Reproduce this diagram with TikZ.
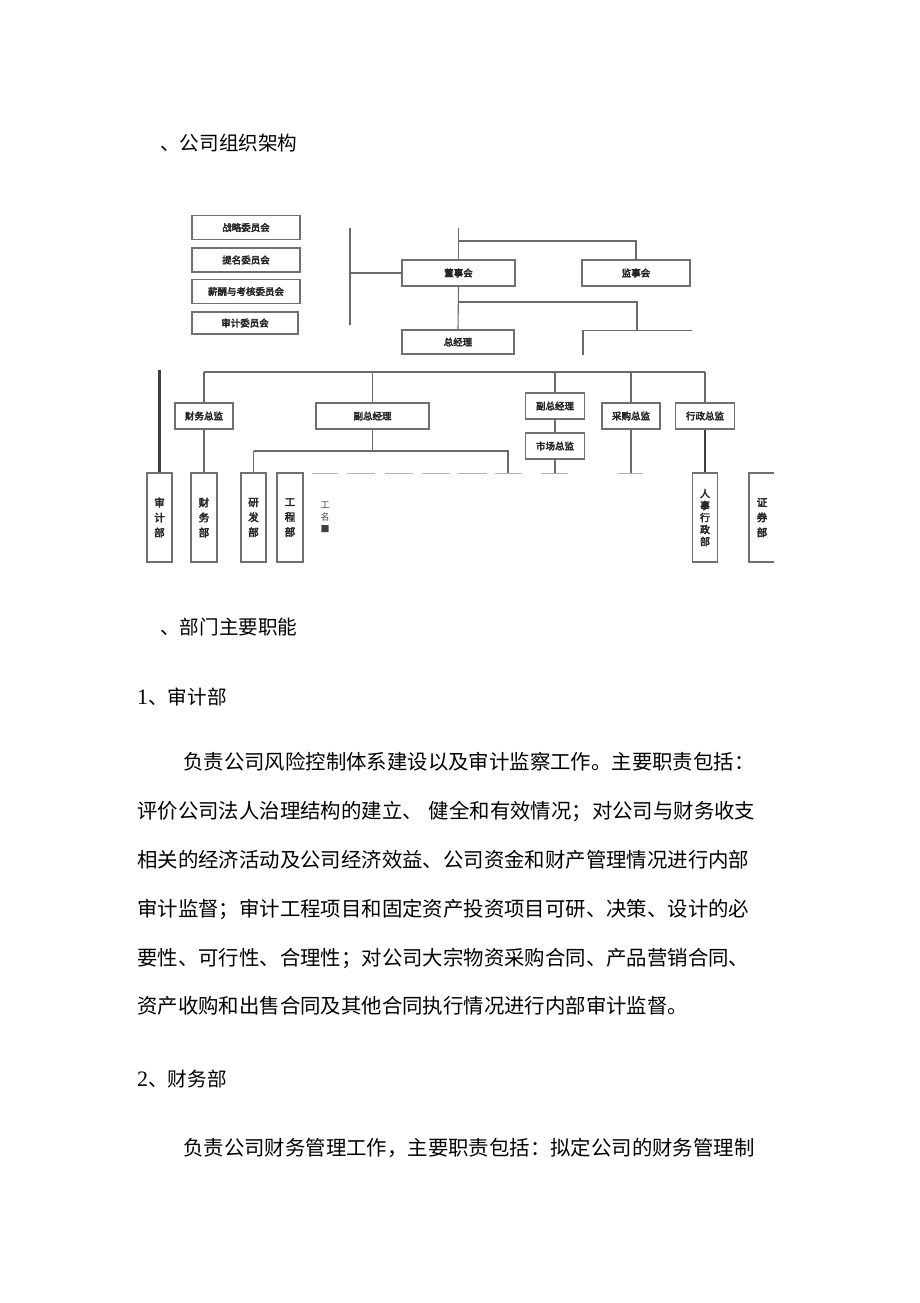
\documentclass[tikz,border=0pt]{standalone}
\usepackage{fontspec}
\newfontfamily\cjk{Noto Sans CJK SC}
\newfontfamily\cjkb[FakeBold=3.5]{Noto Sans CJK SC}
\newfontfamily\lser{Liberation Serif}
\definecolor{linegray}{HTML}{6A6A6A}
\definecolor{boxgray}{HTML}{707070}
\tikzset{
  chartbox/.style={draw=boxgray, line width=1.3pt, fill=white, inner sep=0pt,
    font=\cjkb\fontsize{9.5}{11}\selectfont, text=black!85},
  vbox/.style={chartbox, minimum width=25pt, minimum height=89pt, align=center,
    font=\cjkb\fontsize{10.5}{15}\selectfont},
  conn/.style={draw=linegray, line width=1.1pt},
  thickconn/.style={draw=black!75, line width=2.2pt},
  dashseg/.style={draw=gray!60, line width=0.9pt},
  bodytext/.style={anchor=west, inner sep=0pt, font=\cjk\fontsize{20.4}{20.4}\selectfont},
  headtext/.style={anchor=west, inner sep=0pt, font=\cjk\fontsize{19.6}{19.6}\selectfont},
}
\begin{document}
\begin{tikzpicture}[x=1pt,y=-1pt]
\useasboundingbox[fill=white] (0,0) rectangle (920,1303);

% ---------- title ----------
\node[headtext] (t1) at (160,143) {、公司组织架构};

% ---------- committees ----------
\node[chartbox, minimum width=108pt, minimum height=24pt] (c1) at (246,227.5) {战略委员会};
\node[chartbox, minimum width=108pt, minimum height=24pt] (c2) at (246,260) {提名委员会};
\node[chartbox, minimum width=108pt, minimum height=24pt] (c3) at (246,291.5) {薪酬与考核委员会};
\node[chartbox, minimum width=106pt, minimum height=22pt] (c4) at (245,323) {审计委员会};

% ---------- top ----------
\node[chartbox, minimum width=113pt, minimum height=26pt] (dsh) at (458.5,273) {董事会};
\node[chartbox, minimum width=108pt, minimum height=26pt] (jsh) at (636,273) {监事会};
\node[chartbox, minimum width=112pt, minimum height=24pt] (zjl) at (458,342) {总经理};

\coordinate (lv1) at (350,228);
\coordinate (lv2) at (350,325);
\draw[conn] (lv1) -- (lv2);
\draw[conn] (dsh.west) -- (dsh.west -| lv1);
\coordinate (tt) at (458.5,228);
\coordinate (tb) at (458.5,241);
\coordinate (tj) at (636,241);
\draw[conn] (tt) -- (dsh.north);
\draw[conn] (tb) -- (tj) -- (jsh.north);
\draw[conn] (dsh.south) -- (zjl.north);
\coordinate (mb) at (458.5,302);
\coordinate (mj) at (637,302);
\coordinate (ob1) at (583,355);
\coordinate (ob2) at (583,330.5);
\coordinate (ob3) at (692,330.5);
\coordinate (obt) at (637,330.5);
\draw[conn] (mb) -- (mj) -- (obt);
\draw[conn] (ob1) -- (ob2) -- (ob3);

% ---------- second level ----------
\node[chartbox, minimum width=58pt, minimum height=26pt] (cwzj) at (204,416) {财务总监};
\node[chartbox, minimum width=113pt, minimum height=26pt] (fz1) at (372.5,416) {副总经理};
\node[chartbox, minimum width=59pt, minimum height=26pt] (fz2) at (555,406) {副总经理};
\node[chartbox, minimum width=59pt, minimum height=26pt] (sczj) at (555,446) {市场总监};
\node[chartbox, minimum width=58pt, minimum height=26pt] (cgzj) at (631,416) {采购总监};
\node[chartbox, minimum width=59pt, minimum height=26pt] (xzzj) at (705,416) {行政总监};

\coordinate (busL) at (204,372);
\coordinate (busR) at (705,372);
\draw[conn] (busL) -- (busR);
\draw[conn] (cwzj.north) -- (cwzj.north |- busL);
\draw[conn] (fz1.north) -- (fz1.north |- busL);
\draw[conn] (fz2.north) -- (fz2.north |- busL);
\draw[conn] (cgzj.north) -- (cgzj.north |- busL);
\draw[conn] (xzzj.north) -- (xzzj.north |- busL);
\draw[conn] (fz2.south) -- (sczj.north);

% ---------- departments ----------
\node[vbox] (sjb) at (159.5,517.5) {审\\计\\部};
\node[vbox, minimum width=26pt] (cwb) at (204,517.5) {财\\务\\部};
\node[vbox] (yfb) at (253.5,517.5) {研\\发\\部};
\node[vbox, minimum width=26pt] (gcb) at (290,517.5) {工\\程\\部};
\node[vbox, font=\cjkb\fontsize{10}{12}\selectfont] (rsb) at (705,517.5) {人\\事\\行\\政\\部};
% 证券部 box (open on the right)
\coordinate (zq1) at (774,473);
\coordinate (zq2) at (749,473);
\coordinate (zq3) at (749,562);
\coordinate (zq4) at (774,562);
\draw[draw=boxgray, line width=1.3pt] (zq1) -- (zq2) -- (zq3) -- (zq4);
\node[inner sep=0pt, align=center, font=\cjkb\fontsize{10.5}{15}\selectfont, text=black!85] (zqb) at (762,517.5) {证\\券\\部};

\node[inner sep=0pt, align=center, font=\cjk\fontsize{9}{12}\selectfont, text=black!75] (gm) at (325,517) {工\\名\\■};

\coordinate (sjtop) at (159.5,370);
\draw[thickconn] (sjtop) -- (sjb.north);
\draw[conn] (cwzj.south) -- (cwb.north);
\coordinate (fb1) at (372.5,451);
\coordinate (fbL) at (253.5,451);
\coordinate (fbR) at (508,451);
\coordinate (fbRd) at (508,473);
\draw[conn] (fz1.south) -- (fb1);
\draw[conn] (fbL) -- (fbR) -- (fbRd);
\draw[conn] (fbL) -- (yfb.north);
\coordinate (scd) at (555,473);
\draw[conn] (sczj.south) -- (scd);
\coordinate (cgd) at (631,473);
\draw[conn] (cgzj.south) -- (cgd);
\draw[thickconn] (xzzj.south) -- (rsb.north);

% dashed rule at y=473
\foreach \a/\b in {312/338,347/375,385/413,422/450,458/487,495/522,541/568,618/643}
  \draw[dashseg] (\a,473) -- (\b,473);

% ---------- body text ----------
\node[headtext] (t2) at (160,627) {、部门主要职能};
\node[headtext] (t3) at (137,697) {{\lser\fontsize{22}{22}\selectfont 1}、审计部};
\node[bodytext] (p1) at (183,762) {负责公司风险控制体系建设以及审计监察工作。主要职责包括：};
\node[bodytext] (p2) at (137,811) {评价公司法人治理结构的建立、\hspace{6pt}健全和有效情况；对公司与财务收支};
\node[bodytext] (p3) at (137,860) {相关的经济活动及公司经济效益、公司资金和财产管理情况进行内部};
\node[bodytext] (p4) at (137,909) {审计监督；审计工程项目和固定资产投资项目可研、决策、设计的必};
\node[bodytext] (p5) at (137,958) {要性、可行性、合理性；对公司大宗物资采购合同、产品营销合同、};
\node[bodytext] (p6) at (137,1006) {资产收购和出售合同及其他合同执行情况进行内部审计监督。};
\node[headtext] (t4) at (137,1079) {{\lser\fontsize{22}{22}\selectfont 2}、财务部};
\node[bodytext] (p7) at (183,1148) {负责公司财务管理工作，主要职责包括：拟定公司的财务管理制};
\end{tikzpicture}
\end{document}
